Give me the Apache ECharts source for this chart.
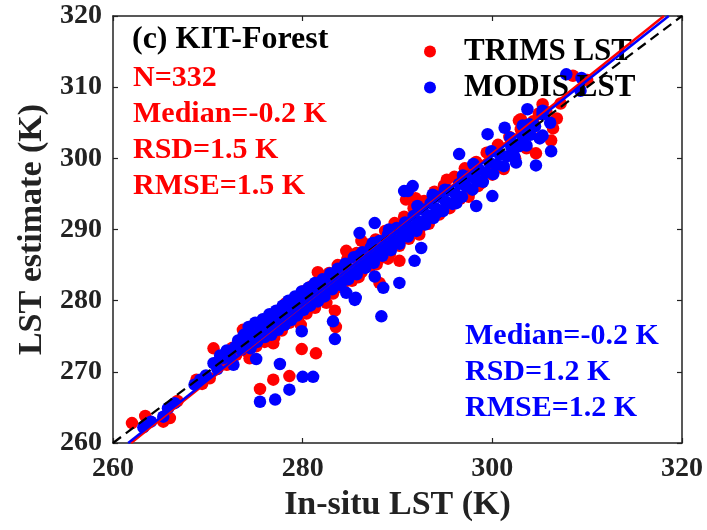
<!DOCTYPE html>
<html>
<head>
<meta charset="utf-8">
<script src="https://cdn.jsdelivr.net/npm/echarts@6/dist/echarts.min.js"></script>
<style>
  html, body { margin: 0; padding: 0; background: #fff; }
  #scatter-chart { width: 707px; height: 530px; }
</style>
</head>
<body>
<div id="scatter-chart"></div>
<script>
var AXIS_MIN = 260;
var AXIS_MAX = 320;

var titleText = "(c) KIT-Forest";
var statsTrims = ["N=332", "Median=-0.2 K", "RSD=1.5 K", "RMSE=1.5 K"];
var statsModis = ["Median=-0.2 K", "RSD=1.2 K", "RMSE=1.2 K"];

// [in-situ LST, TRIMS estimate]
var trimsPoints = [
  [262.0, 262.8], [263.4, 263.8], [265.3, 263.0], [266.0, 263.5], [266.8, 265.9],
  [268.8, 268.9], [269.4, 268.3], [270.2, 269.1], [270.6, 273.3], [271.2, 271.6],
  [272.0, 271.0], [272.6, 273.4],
  [275.5, 267.6], [276.9, 268.9], [278.6, 269.4], [279.9, 273.2], [281.4, 272.6],
  [276.9, 274.0], [273.7, 275.9], [273.9, 275.7], [283.5, 276.3], [283.4, 278.6],
  [282.5, 279.7], [282.8, 281.1], [283.5, 281.8], [287.8, 285.1], [288.1, 282.5],
  [290.2, 285.6], [292.3, 289.3], [284.6, 287.0], [286.2, 288.4], [290.9, 294.2],
  [300.0, 297.7], [298.5, 296.1], [302.5, 301.6], [304.6, 300.7], [306.2, 302.5],
  [305.3, 307.6], [303.0, 305.5], [302.8, 305.3], [308.5, 311.6], [310.0, 311.0],
  [273.0, 272.4], [273.6, 274.6], [274.2, 272.8], [274.7, 276.4], [275.1, 273.6],
  [275.6, 276.8], [276.0, 274.2], [276.4, 277.6], [276.9, 275.6], [277.3, 278.4],
  [277.8, 275.8], [278.2, 279.6], [278.6, 276.9], [279.1, 280.2], [279.5, 277.3],
  [280.0, 281.3], [280.4, 278.2], [280.9, 282.0], [281.3, 279.0], [281.8, 283.1],
  [282.3, 280.1], [282.8, 283.9], [283.2, 281.0], [283.7, 285.0], [284.2, 282.1],
  [284.7, 285.8], [285.2, 282.8], [285.7, 286.7], [286.2, 284.0], [286.7, 287.9],
  [287.2, 284.9], [287.7, 288.6], [288.2, 286.0], [288.7, 289.8], [289.2, 286.6],
  [289.7, 290.9], [290.2, 287.7], [290.7, 291.8], [291.2, 288.7], [291.7, 293.0],
  [292.3, 290.0], [292.8, 294.0], [293.3, 290.8], [293.9, 295.3], [294.4, 292.1],
  [294.9, 296.2], [295.5, 293.0], [296.0, 297.4], [296.6, 294.3], [297.1, 298.6],
  [297.7, 295.4], [298.3, 299.5], [298.8, 296.5], [299.4, 300.8], [300.0, 298.8],
  [300.6, 301.9], [301.2, 298.5], [301.8, 303.0], [302.4, 300.0], [303.0, 304.1],
  [303.6, 301.4], [304.3, 305.2], [305.0, 302.9], [305.7, 306.5], [306.4, 304.2],
  [307.2, 307.7], [306.8, 305.6],
  [274.4, 271.9], [277.0, 274.8], [279.8, 276.6], [281.6, 284.0], [285.9, 283.3],
  [289.0, 285.9], [291.9, 294.4], [295.2, 297.0], [297.5, 294.6], [304.9, 306.3]
];

// [in-situ LST, MODIS estimate]
var modisPoints = [
  [263.2, 262.2], [264.0, 263.0], [265.3, 263.7], [265.8, 264.9], [266.5, 265.6],
  [268.6, 268.2], [269.2, 268.9], [269.8, 269.5], [270.6, 271.2], [271.0, 270.4],
  [271.3, 272.3], [271.6, 271.9], [272.0, 273.0], [272.4, 272.1], [272.7, 271.0],
  [272.9, 273.5],
  [275.5, 265.8], [277.1, 266.1], [277.6, 271.1], [278.6, 267.5], [280.0, 269.3],
  [281.1, 269.3], [275.1, 271.8], [279.9, 275.7], [283.4, 274.6], [283.2, 277.1],
  [288.3, 277.8], [285.5, 280.1], [284.6, 281.1], [285.6, 280.4], [287.6, 283.4],
  [288.5, 281.8], [290.2, 282.5], [291.8, 285.6], [292.5, 287.4],
  [273.2, 274.4], [273.5, 273.1], [273.8, 275.2], [274.0, 274.0], [274.3, 276.3],
  [274.5, 273.3], [274.8, 275.0], [275.0, 276.9], [275.2, 274.2], [275.5, 275.7],
  [275.8, 277.4], [276.0, 274.9], [276.2, 276.3], [276.5, 278.1], [276.7, 275.2],
  [276.9, 276.9], [277.2, 278.6], [277.4, 275.9], [277.6, 277.5], [277.9, 279.3],
  [278.1, 276.6], [278.3, 278.2], [278.5, 280.0], [278.8, 277.3], [279.0, 278.9],
  [279.2, 280.6], [279.4, 277.9], [279.7, 279.4], [279.9, 281.3], [280.1, 278.7],
  [280.4, 280.2], [280.6, 281.8], [280.8, 279.3], [281.1, 280.8], [281.3, 282.5],
  [281.6, 279.9], [281.8, 281.4], [282.1, 283.0], [282.3, 280.6], [282.6, 282.1],
  [282.9, 283.8], [283.1, 281.6], [283.4, 282.9], [283.7, 284.5], [284.0, 282.2],
  [284.2, 283.6], [284.5, 285.2], [284.8, 283.0], [285.1, 284.4], [285.4, 286.1],
  [285.7, 283.7], [286.0, 285.1], [286.0, 289.5], [286.3, 286.8], [286.6, 284.6],
  [286.9, 286.0], [287.2, 287.5], [287.6, 290.9], [287.5, 285.3], [287.8, 286.8],
  [288.1, 288.4], [288.4, 286.3], [288.7, 287.7], [289.0, 289.3], [289.3, 287.1],
  [289.6, 288.6], [289.9, 290.2], [290.2, 288.0], [290.5, 289.4], [290.7, 295.4],
  [290.8, 291.0], [291.1, 289.0], [291.1, 295.4], [291.6, 296.1], [291.4, 290.3],
  [291.7, 291.9], [292.0, 289.8], [292.3, 291.1],
  [292.6, 292.8], [292.9, 290.7], [293.2, 292.0], [293.5, 293.7], [293.8, 291.6],
  [294.1, 292.9], [294.1, 292.3], [294.4, 294.6], [294.8, 292.6], [295.1, 293.9],
  [295.4, 295.5], [295.8, 293.6], [296.2, 293.7], [296.1, 295.0], [296.5, 296.4],
  [296.5, 300.6], [296.8, 294.6], [297.2, 296.1], [297.5, 297.4], [297.9, 295.6],
  [298.3, 293.3], [298.5, 296.8], [298.2, 297.1], [298.6, 298.4], [299.0, 296.7],
  [299.3, 298.0], [299.5, 303.4], [299.7, 299.4], [300.0, 294.7], [300.1, 297.8],
  [300.4, 299.1], [300.8, 300.5], [301.3, 304.3], [301.2, 298.9], [301.6, 300.3],
  [302.0, 301.6], [302.3, 300.3], [302.5, 299.4], [302.8, 301.7], [303.2, 303.0],
  [303.2, 304.6], [303.7, 306.9], [303.6, 301.8], [304.0, 303.3], [304.6, 299.0],
  [304.5, 304.5], [305.0, 302.8], [305.3, 306.2], [305.3, 303.2], [305.3, 306.7],
  [306.2, 301.0], [306.1, 305.0],
  [307.8, 311.8], [309.4, 311.3], [309.3, 309.5],
  [276.3, 277.0], [277.8, 278.9], [279.6, 280.2], [281.4, 281.9], [282.8, 282.4],
  [284.4, 284.8], [285.9, 286.3], [287.4, 288.1], [289.1, 290.0], [290.6, 290.1],
  [292.1, 293.3], [293.7, 294.9], [295.0, 295.6], [296.9, 297.6], [298.0, 299.2],
  [299.9, 301.0], [301.9, 302.9], [303.9, 304.8]
];

// 1:1 line and the two fitted lines, [x, y] end points
var oneToOne = [[260, 260], [320, 320]];
var trimsFit = [[261.9, 260], [318.1, 320]];
var modisFit = [[261.6, 260], [318.6, 320]];

var chart = echarts.init(document.getElementById("scatter-chart"));

var serif = '"Liberation Serif", "Times New Roman", serif';
var axisColor = "#222";

function boxAxis(extra) {
  return Object.assign({
    type: "value",
    min: AXIS_MIN,
    max: AXIS_MAX,
    splitLine: { show: false },
    axisLine: { onZero: false, lineStyle: { color: axisColor, width: 1.5 } },
    axisTick: { inside: true, length: 5, lineStyle: { color: axisColor, width: 1.2 } },
    axisLabel: { show: false }
  }, extra);
}

var labelStyle = {
  color: axisColor,
  fontFamily: serif,
  fontWeight: "bold",
  fontSize: 28
};

var option = {
  animation: false,
  backgroundColor: "#fff",
  grid: { left: 113, right: 25, top: 16, bottom: 87 },
  legend: {
    orient: "vertical",
    left: 424,
    top: 36,
    padding: 0,
    itemGap: 5,
    itemWidth: 58,
    itemHeight: 12,
    data: [
      { name: "TRIMS LST", icon: "circle" },
      { name: "MODIS LST", icon: "circle" }
    ],
    textStyle: { color: "#000", fontFamily: serif, fontWeight: "bold", fontSize: 31 }
  },
  xAxis: [
    boxAxis({
      position: "bottom",
      interval: 20,
      axisLabel: Object.assign({ show: true, margin: 12 }, labelStyle),
      name: "In-situ LST (K)",
      nameLocation: "middle",
      nameGap: 44,
      nameTextStyle: { color: axisColor, fontFamily: serif, fontWeight: "bold", fontSize: 34 }
    }),
    boxAxis({ position: "top", interval: 20 })
  ],
  yAxis: [
    boxAxis({
      position: "left",
      interval: 10,
      axisLabel: Object.assign({ show: true, margin: 11 }, labelStyle),
      name: "LST estimate (K)",
      nameLocation: "middle",
      nameGap: 64,
      nameTextStyle: { color: axisColor, fontFamily: serif, fontWeight: "bold", fontSize: 34 }
    }),
    boxAxis({ position: "right", interval: 10 })
  ],
  graphic: [
    {
      type: "text", left: 132, top: 22, z: 10,
      style: { text: titleText, fill: "#000", font: "bold 32px " + serif, lineHeight: 36 }
    },
    {
      type: "text", left: 133, top: 60, z: 10,
      style: { text: statsTrims.join("\n"), fill: "#ff0000", font: "bold 30px " + serif, lineHeight: 36 }
    },
    {
      type: "text", left: 465, top: 318, z: 10,
      style: { text: statsModis.join("\n"), fill: "#0000ff", font: "bold 30px " + serif, lineHeight: 36 }
    }
  ],
  series: [
    {
      name: "TRIMS LST",
      type: "scatter",
      symbolSize: 12.5,
      itemStyle: { color: "#ff0000", opacity: 1 },
      data: trimsPoints,
      z: 2
    },
    {
      name: "MODIS LST",
      type: "scatter",
      symbolSize: 12.5,
      itemStyle: { color: "#0000ff", opacity: 1 },
      data: modisPoints,
      z: 2
    },
    {
      name: "1:1",
      type: "line",
      showSymbol: false,
      data: oneToOne,
      lineStyle: { color: "#000", width: 2.2, type: [10, 6] },
      z: 4
    },
    {
      name: "TRIMS fit",
      type: "line",
      showSymbol: false,
      data: trimsFit,
      lineStyle: { color: "#ff0000", width: 2.5 },
      z: 4
    },
    {
      name: "MODIS fit",
      type: "line",
      showSymbol: false,
      data: modisFit,
      lineStyle: { color: "#0000ff", width: 2.5 },
      z: 4
    }
  ]
};

chart.setOption(option);
</script>
</body>
</html>
